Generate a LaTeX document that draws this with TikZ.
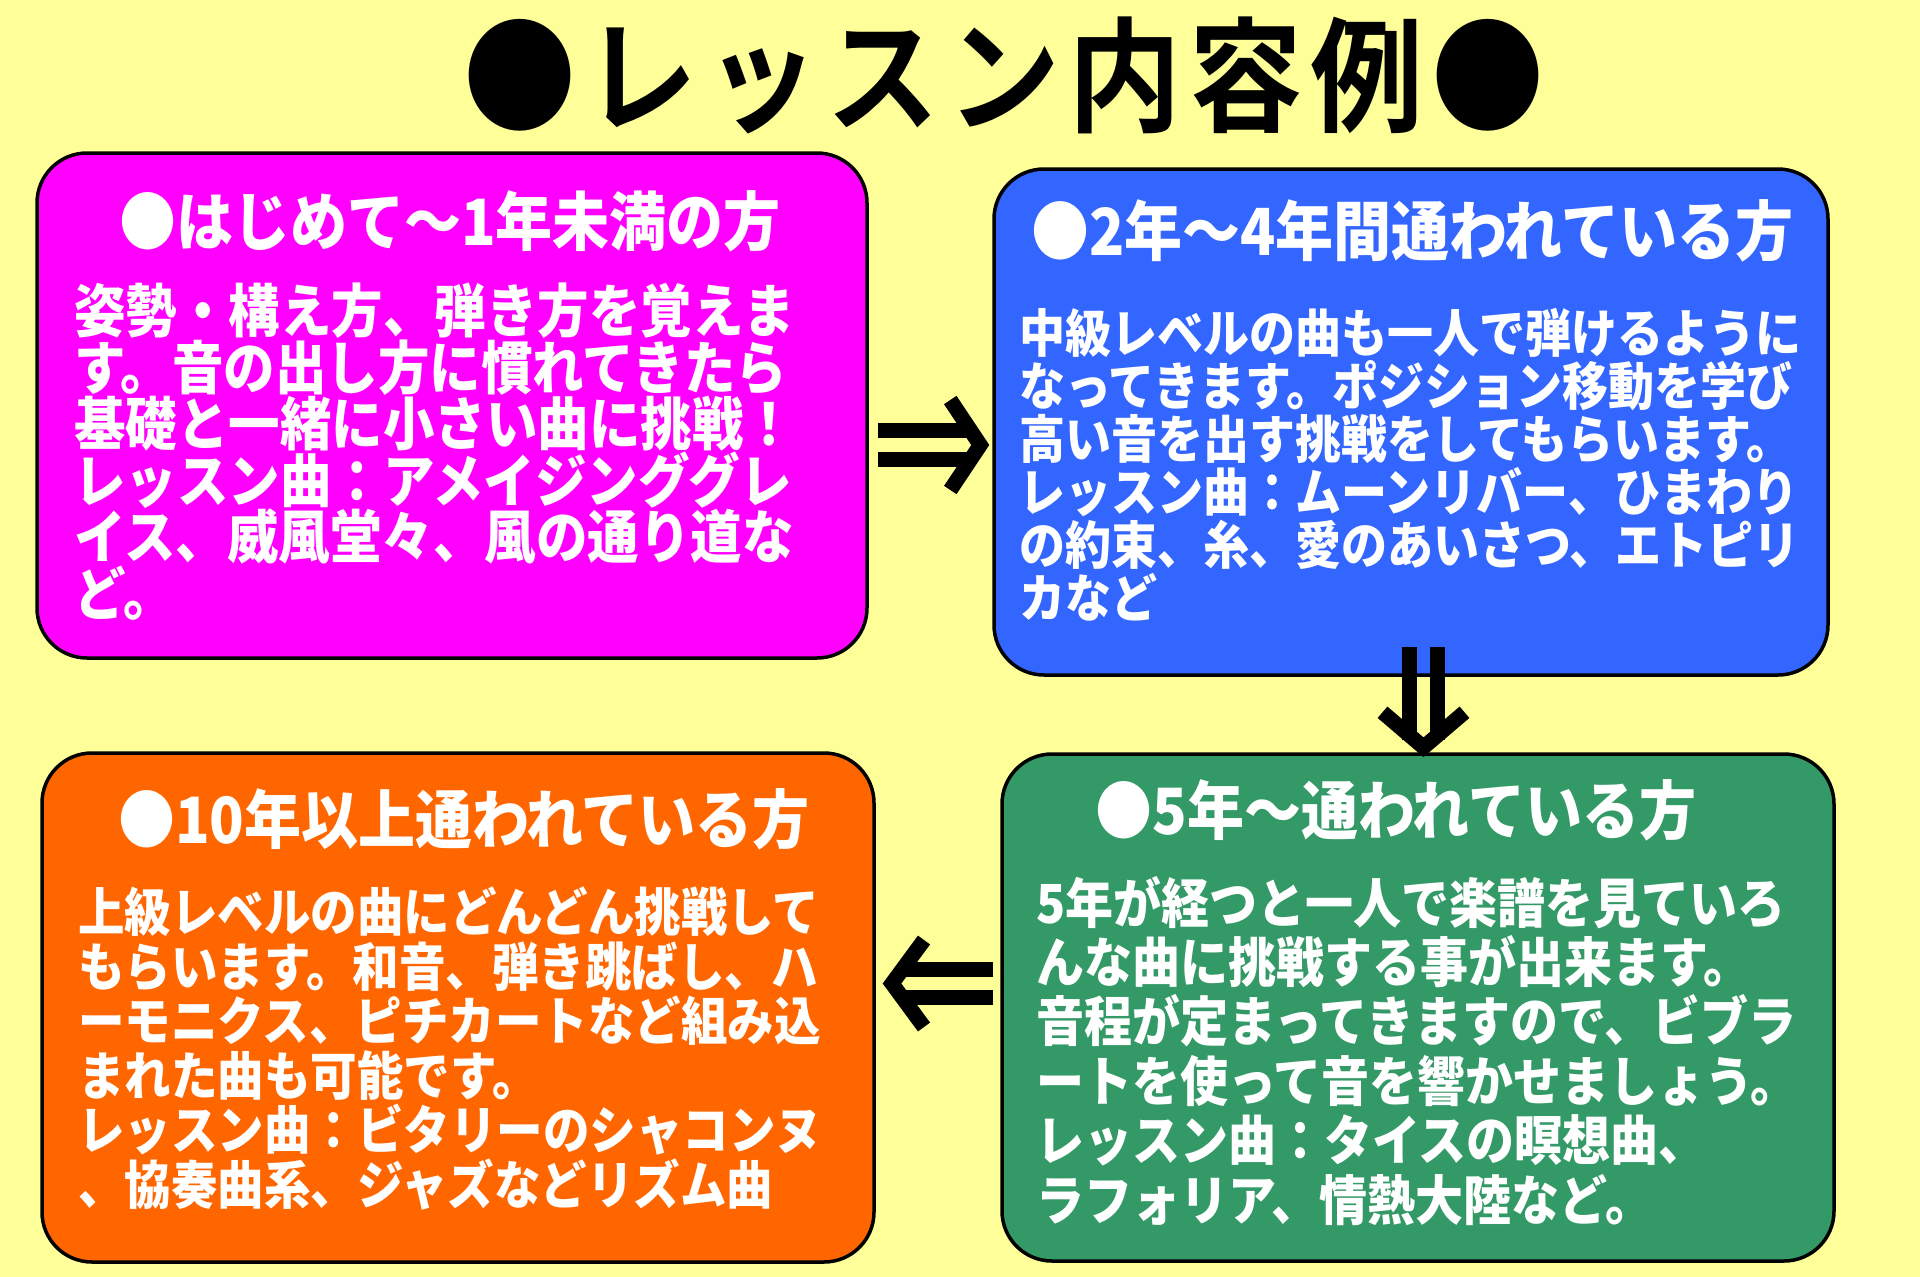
\documentclass[tikz,border=0pt]{standalone}
\usepackage{fontspec}
\usetikzlibrary{calc}
\newfontfamily\jpbold{Noto Sans CJK JP Bold}
\newfontfamily\jpblack{Noto Sans CJK JP Black}
\newcommand\tallj[1]{\scalebox{1}[1.12]{#1}}
\definecolor{bg}{HTML}{FFFF99}
\definecolor{mag}{HTML}{FF00FF}
\definecolor{blu}{HTML}{3366FF}
\definecolor{org}{HTML}{FF6600}
\definecolor{grn}{HTML}{339966}
\begin{document}
\begin{tikzpicture}[x=1pt,y=-1pt,
  box/.style={draw=black, line width=3.5pt, rounded corners=50pt, inner sep=0pt},
  head/.style={text=white, anchor=base, inner sep=0pt},
  body/.style={text=white, anchor=base west, inner sep=0pt},
  shaft/.style={draw=black, line width=15pt},
  chevron/.style={draw=black, line width=15pt, line join=miter}]
\fill[bg] (0,0) rectangle (1920,1277);
\useasboundingbox (0,0) rectangle (1920,1277);

% title
\node[anchor=base, inner sep=0pt] (title) at (1004,122)
  {\scalebox{1}[1.1]{\fontsize{113}{113}\jpbold\addfontfeature{LetterSpace=7}●レッスン内容例●}};

% boxes
\node[box, fill=mag, minimum width=830pt, minimum height=505pt] (b1) at (452,405.5) {};
\node[box, fill=blu, minimum width=834pt, minimum height=506pt] (b2) at (1411,422) {};
\node[box, fill=org, minimum width=832pt, minimum height=509pt] (b3) at (458,1007.5) {};
\node[box, fill=grn, minimum width=832pt, minimum height=507pt] (b4) at (1418,1007.5) {};

% headers
\node[head, font=\fontsize{57}{57}\jpblack] (h1) at (450,245) {\tallj{●はじめて～1年未満の方}};
\node[head, font=\fontsize{58}{58}\jpblack] (h2) at (1412,255) {\tallj{●2年～4年間通われている方}};
\node[head, font=\fontsize{57}{57}\jpblack] (h3) at (464,843) {\tallj{●10年以上通われている方}};
\node[head, font=\fontsize{57}{57}\jpblack] (h4) at (1396,834) {\tallj{●5年～通われている方}};

% bodies
\foreach \ltext [count=\i from 0] in {姿勢・構え方、弾き方を覚えま,す。音の出し方に慣れてきたら,基礎と一緒に小さい曲に挑戦！,レッスン曲：アメイジンググレ,イス、威風堂々、風の通り道な,ど。}
  \node[body, font=\fontsize{51.5}{51.5}\jpblack] (t1-\i) at ({74},{332.5+\i*56.5}) {\tallj{\ltext}};
\foreach \ltext [count=\i from 0] in {中級レベルの曲も一人で弾けるように,なってきます。ポジション移動を学び,高い音を出す挑戦をしてもらいます。,レッスン曲：ムーンリバー、ひまわり,の約束、糸、愛のあいさつ、エトピリ,カなど}
  \node[body, font=\fontsize{46}{46}\jpblack] (t2-\i) at ({1019},{352.5+\i*53}) {\tallj{\ltext}};
\foreach \ltext [count=\i from 0] in {上級レベルの曲にどんどん挑戦して,もらいます。和音、弾き跳ばし、ハ,ーモニクス、ピチカートなど組み込,まれた曲も可能です。,レッスン曲：ビタリーのシャコンヌ,、協奏曲系、ジャズなどリズム曲}
  \node[body, font=\fontsize{46.5}{46.5}\jpblack] (t3-\i) at ({78},{931.5+\i*54.6}) {\tallj{\ltext}};
\foreach \ltext [count=\i from 0] in {5年が経つと一人で楽譜を見ていろ,んな曲に挑戦する事が出来ます。,音程が定まってきますので、ビブラ,ートを使って音を響かせましょう。,レッスン曲：タイスの瞑想曲、,ラフォリア、情熱大陸など。}
  \node[body, font=\fontsize{48}{48}\jpblack] (t4-\i) at ({1036},{923+\i*59.4}) {\tallj{\ltext}};

% arrow 1: b1 => b2
\coordinate (a1a) at ([shift={(9,39.5)}]b1.east);
\coordinate (a1b) at (a1a -| b2.west);
\draw[shaft] ([shift={(0,-14.5)}]a1a) -- ([shift={(-20,-14.5)}]a1b);
\draw[shaft] ([shift={(0,14.5)}]a1a) -- ([shift={(-20,14.5)}]a1b);
\draw[chevron] ([shift={(-42,-45)}]a1b) -- ([shift={(-12,0)}]a1b) -- ([shift={(-42,45)}]a1b);

% arrow 2: b2 => b4 (down)
\coordinate (a2a) at ([shift={(12.5,-29.75)}]b2.south);
\coordinate (a2b) at (a2a |- b4.north);
\draw[shaft] ([shift={(-14,0)}]a2a) -- ([shift={(-14,-12)}]a2b);
\draw[shaft] ([shift={(14,0)}]a2a) -- ([shift={(14,-12)}]a2b);
\draw[chevron] ([shift={(-41,-40)}]a2b) -- ([shift={(0,-5)}]a2b) -- ([shift={(41,-40)}]a2b);

% arrow 3: b4 => b3 (left)
\coordinate (a3a) at ([shift={(-7.25,-24)}]b4.west);
\coordinate (a3b) at (a3a -| b3.east);
\draw[shaft] ([shift={(0,-14)}]a3a) -- ([shift={(27.25,-14)}]a3b);
\draw[shaft] ([shift={(0,14)}]a3a) -- ([shift={(27.25,14)}]a3b);
\draw[chevron] ([shift={(48.25,-43.5)}]a3b) -- ([shift={(16.25,0)}]a3b) -- ([shift={(48.25,43.5)}]a3b);
\end{tikzpicture}
\end{document}
